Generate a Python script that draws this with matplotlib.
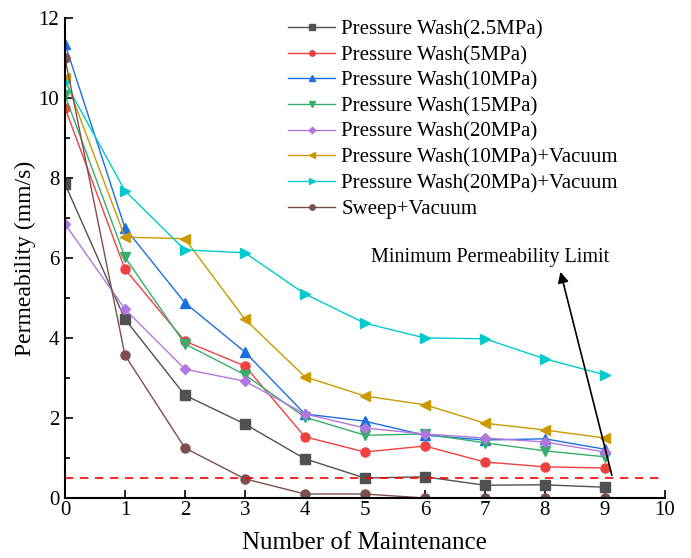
import matplotlib.pyplot as plt

plt.rcParams['font.family'] = ['Liberation Serif', 'DejaVu Serif']

# ---- datos ----
x = [0, 1, 2, 3, 4, 5, 6, 7, 8, 9]

labels = [
    "Pressure Wash(2.5MPa)",
    "Pressure Wash(5MPa)",
    "Pressure Wash(10MPa)",
    "Pressure Wash(15MPa)",
    "Pressure Wash(20MPa)",
    "Pressure Wash(10MPa)+Vacuum",
    "Pressure Wash(20MPa)+Vacuum",
    "Sweep+Vacuum",
]

pw_2_5 = [7.85, 4.47, 2.57, 1.85, 0.98, 0.50, 0.53, 0.32, 0.33, 0.27]
pw_5 = [9.75, 5.72, 3.92, 3.30, 1.53, 1.15, 1.30, 0.90, 0.78, 0.75]
pw_10 = [11.35, 6.75, 4.88, 3.65, 2.10, 1.92, 1.57, 1.45, 1.48, 1.22]
pw_15 = [10.07, 6.02, 3.85, 3.08, 2.02, 1.57, 1.60, 1.38, 1.18, 1.03]
pw_20 = [6.85, 4.72, 3.22, 2.92, 2.10, 1.75, 1.60, 1.50, 1.40, 1.15]
pw_10_vac = [10.50, 6.52, 6.48, 4.47, 3.03, 2.55, 2.33, 1.87, 1.70, 1.50]
pw_20_vac = [10.40, 7.68, 6.20, 6.13, 5.10, 4.37, 4.00, 3.98, 3.48, 3.08]
sweep_vac = [11.00, 3.57, 1.25, 0.48, 0.10, 0.10, 0.0, 0.0, 0.0, 0.0]

series = [pw_2_5, pw_5, pw_10, pw_15, pw_20, pw_10_vac, pw_20_vac, sweep_vac]
colors = ['#515151', '#F14040', '#1A6FDF', '#37AD6B', '#B177DE', '#CC9900', '#00CBCC', '#7D4E4E']
markers = ['s', 'o', '^', 'v', 'D', '<', '>', 'o']

limit = 0.5

fig = plt.figure(figsize=(6.91, 5.58), dpi=100)
ax = fig.add_axes([0.094, 0.1075, 0.868, 0.8605])

for ys, lab, col, mk in zip(series, labels, colors, markers):
    ms = 5.5 if mk == 'D' else 6.5
    ax.plot(x, ys, color=col, marker=mk, markersize=ms, linewidth=1.0, label=lab)

ax.axhline(limit, color='#FF0000', linestyle=(0, (5, 4)), linewidth=1.2)

ax.annotate("", xy=(8.25, 5.72), xytext=(9.13, 0.5),
            arrowprops=dict(arrowstyle='-|>', color='black', lw=1.2, mutation_scale=16))
ax.text(7.08, 5.78, "Minimum Permeability Limit", ha='center', va='bottom', fontsize=14.5)

ax.set_xlim(0, 10)
ax.set_ylim(0, 12)
ax.set_xticks(range(0, 11))
ax.set_yticks(range(0, 13, 2))
ax.set_yticks(range(1, 12, 2), minor=True)
ax.tick_params(direction='in', labelsize=15, length=6, width=1.2, pad=2)
ax.tick_params(axis='y', pad=4)
ax.tick_params(which='minor', direction='in', length=3.5, width=1.2)
ax.spines['top'].set_visible(False)
ax.spines['right'].set_visible(False)
ax.spines['left'].set_linewidth(1.5)
ax.spines['bottom'].set_linewidth(1.5)

ax.set_xlabel("Number of Maintenance", fontsize=18, labelpad=9)
ax.set_ylabel("Permeability (mm/s)", fontsize=17, labelpad=2)

ax.legend(loc='upper left', bbox_to_anchor=(0.39, 0.998), bbox_transform=fig.transFigure,
          frameon=False, fontsize=15, handlelength=2.25, labelspacing=0.29,
          handletextpad=0.3, markerscale=0.6)

fig.savefig("out.png", dpi=100)
